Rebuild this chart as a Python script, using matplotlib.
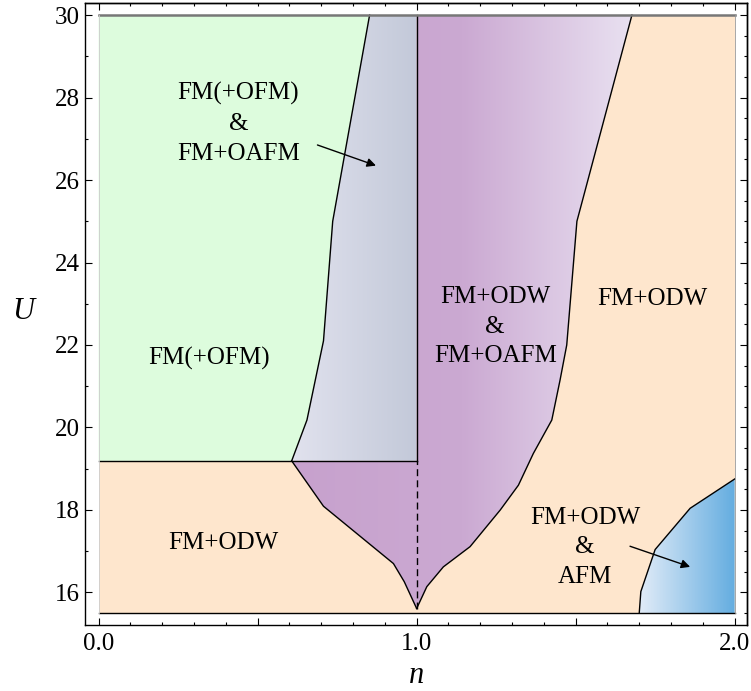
import numpy as np
import matplotlib
matplotlib.use('Agg')
from matplotlib import pyplot as plt
from matplotlib.patches import Polygon
from matplotlib.colors import LinearSegmentedColormap
from matplotlib.ticker import FixedLocator, MultipleLocator, NullFormatter

plt.rcParams['font.family'] = ['Liberation Serif', 'DejaVu Serif']

# phase boundaries in the (n, U) plane
n_min, n_max = 0.0, 2.0
u_min, u_max = 15.5, 30.0
u_split = 19.19  # FM(+OFM) / FM+ODW boundary for n < 1
u_tip = 15.61    # cusp at half filling

gray_left_n = [0.607, 0.655, 0.707, 0.736, 0.852]
gray_left_u = [19.19, 20.18, 22.1, 25.0, 30.0]

purple_low_n = [0.607, 0.707, 0.927, 0.961, 1.0]
purple_low_u = [19.19, 18.09, 16.70, 16.26, 15.61]

purple_right_n = [1.0, 1.032, 1.084, 1.168, 1.263, 1.320, 1.367, 1.425, 1.451, 1.472, 1.504, 1.677]
purple_right_u = [15.61, 16.14, 16.62, 17.11, 18.0, 18.60, 19.37, 20.18, 21.15, 22.0, 25.0, 30.0]

afm_n = [1.700, 1.705, 1.750, 1.860, 2.0]
afm_u = [15.5, 16.02, 17.04, 18.04, 18.75]

# region labels: (text, n, U)
labels = [
    ('FM(+OFM)\n&\nFM+OAFM', 0.439, 27.37),
    ('FM(+OFM)', 0.347, 21.68),
    ('FM+ODW', 0.392, 17.21),
    ('FM+ODW\n&\nFM+OAFM', 1.247, 22.44),
    ('FM+ODW', 1.742, 23.11),
    ('FM+ODW\n&\nAFM', 1.530, 17.09),
]
# arrows: (start n, start U, end n, end U)
arrows = [
    (0.688, 26.85, 0.872, 26.35),
    (1.671, 17.12, 1.860, 16.62),
]

green = '#ddfcdd'
peach = '#fee6cd'


def gradient_fill(ax, xs, ys, colors):
    poly = Polygon(np.column_stack([xs, ys]), closed=True, facecolor='none',
                   edgecolor='none')
    ax.add_patch(poly)
    cmap = LinearSegmentedColormap.from_list('grad', colors)
    img = ax.imshow(np.linspace(0, 1, 256).reshape(1, -1), cmap=cmap,
                    extent=[min(xs), max(xs), min(ys), max(ys)],
                    aspect='auto', origin='lower', zorder=1,
                    interpolation='bilinear')
    img.set_clip_path(poly)


fig = plt.figure(figsize=(7.51, 6.91), dpi=100)
ax = fig.add_axes([0.1136, 0.0955, 0.8807, 0.9006])

# background phases
ax.fill([n_min, n_max, n_max, n_min], [u_min, u_min, u_max, u_max],
        color=peach, zorder=0, lw=0)
green_n = [n_min] + gray_left_n + [n_min]
green_u = [u_split] + gray_left_u + [u_max]
ax.fill(green_n, green_u, color=green, zorder=0.5, lw=0)

# FM(+OFM) & FM+OAFM
gx = gray_left_n + [1.0, 1.0]
gy = gray_left_u + [u_max, u_split]
gradient_fill(ax, gx, gy, ['#e1e2ee', '#c3c9d9'])

# FM+ODW & FM+OAFM: down the left branch to the cusp, up the right branch
px = purple_low_n + purple_right_n[1:] + [1.0, 1.0]
py = purple_low_u + purple_right_u[1:] + [u_max, u_split]
gradient_fill(ax, px, py, ['#c7a1cd', '#cba9d2', '#e9e1f1'])

# FM+ODW & AFM
bx = afm_n + [n_max]
by = afm_u + [u_min]
gradient_fill(ax, bx, by, ['#e2ecf8', '#64ade0'])

# boundaries
lc = dict(color='black', lw=1.0, zorder=3)
ax.plot(gray_left_n, gray_left_u, **lc)
ax.plot(purple_low_n, purple_low_u, **lc)
ax.plot(purple_right_n, purple_right_u, **lc)
ax.plot(afm_n, afm_u, **lc)
ax.plot([n_min, 1.0], [u_split, u_split], **lc)
ax.plot([1.0, 1.0], [u_split, u_max], **lc)
ax.plot([1.0, 1.0], [u_tip, u_split], color='black', lw=1.0, ls=(0, (5, 3)), zorder=3)

# edges of the computed range
ax.plot([n_min, n_max], [u_max, u_max], color='#777777', lw=1.8, zorder=3)
ax.plot([n_min, n_max], [u_min, u_min], color='black', lw=1.0, zorder=3)
ax.plot([n_min, n_min], [u_min, u_max], color='#cccccc', lw=0.6, zorder=3)
ax.plot([n_max, n_max], [u_min, u_max], color='#999999', lw=0.6, zorder=3)

for text, x, y in labels:
    ax.text(x, y, text, ha='center', va='center', fontsize=18,
            linespacing=1.45, zorder=4)

for x0, y0, x1, y1 in arrows:
    ax.annotate('', xy=(x1, y1), xytext=(x0, y0), zorder=5,
                arrowprops=dict(arrowstyle='-|>', color='black', lw=1.0,
                                mutation_scale=13, shrinkA=0, shrinkB=0))

ax.set_xlim(-0.042, 2.038)
ax.set_ylim(15.21, 30.3)

# frame ticks
ax.xaxis.set_major_locator(FixedLocator([0.0, 0.5, 1.0, 1.5, 2.0]))
ax.set_xticklabels(['0.0', '', '1.0', '', '2.0'])
ax.xaxis.set_minor_locator(MultipleLocator(0.1))
ax.yaxis.set_major_locator(MultipleLocator(2))
ax.yaxis.set_minor_locator(MultipleLocator(1))
ax.tick_params(which='both', direction='in', labelsize=18, width=0.8)
ax.tick_params(which='major', length=5)
ax.tick_params(which='minor', length=2.5)
ax.tick_params(axis='x', pad=6)
ax.tick_params(axis='y', pad=4)

top = ax.secondary_xaxis('top')
top.xaxis.set_major_locator(FixedLocator([0.0, 1.0, 2.0]))
top.xaxis.set_minor_locator(MultipleLocator(0.1))
top.xaxis.set_major_formatter(NullFormatter())
top.tick_params(which='both', direction='in', width=0.8)
top.tick_params(which='major', length=5)
top.tick_params(which='minor', length=2.5)

right = ax.secondary_yaxis('right')
right.yaxis.set_major_locator(MultipleLocator(2))
right.yaxis.set_minor_locator(MultipleLocator(0.5))
right.yaxis.set_major_formatter(NullFormatter())
right.tick_params(which='both', direction='in', width=0.8)
right.tick_params(which='major', length=5)
right.tick_params(which='minor', length=2.5)

for sp in list(ax.spines.values()) + [top.spines['top'], right.spines['right']]:
    sp.set_linewidth(1.0)

ax.set_xlabel('n', fontsize=22, fontstyle='italic', va='bottom')
ax.set_ylabel('U', fontsize=22, fontstyle='italic', rotation=0,
              ha='center', va='center')
ax.xaxis.set_label_coords(0.501, -0.1045)
ax.yaxis.set_label_coords(-0.094, 0.504)

fig.savefig('out.png', dpi=100)
